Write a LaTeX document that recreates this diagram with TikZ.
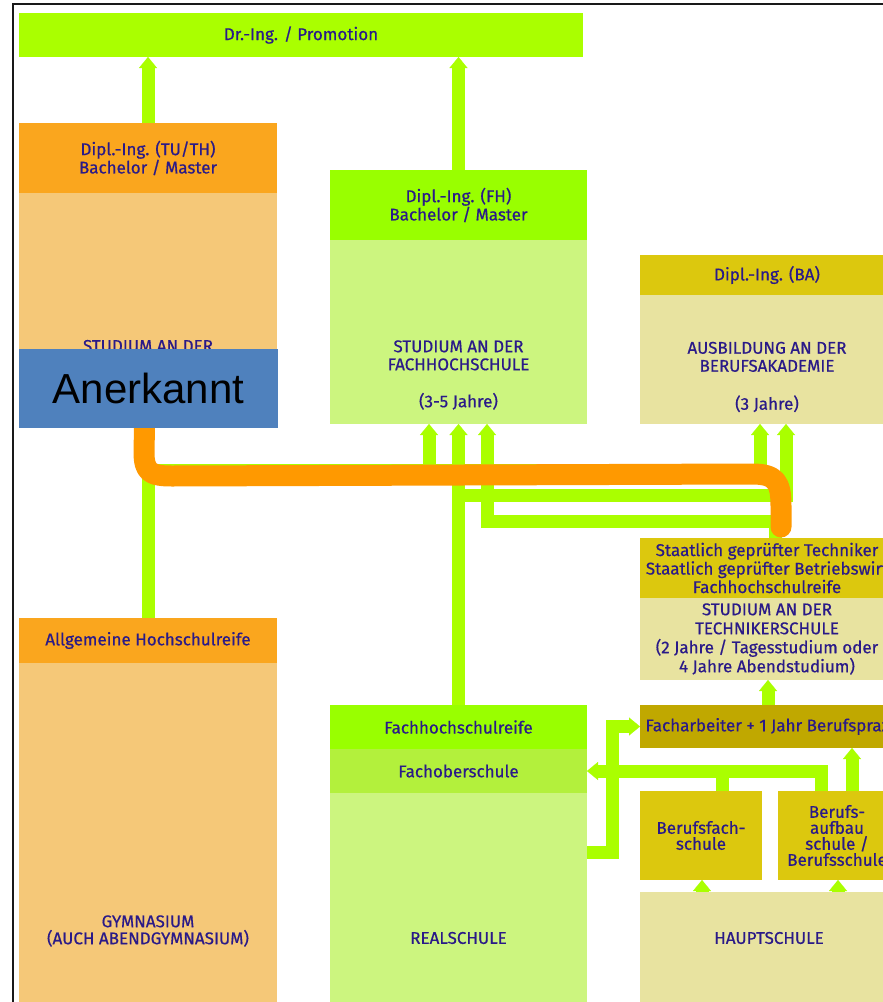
\documentclass[tikz,border=0pt]{standalone}
\usepackage{fontspec}
\setmainfont{Fira Sans}[FakeBold=0.6]
\newfontfamily\arialfont{Liberation Sans}
\usetikzlibrary{arrows.meta}
\pgfdeclarelayer{front}
\pgfsetlayers{main,front}
\definecolor{limeg}{HTML}{AAFF00}
\definecolor{fhgreen}{HTML}{99FF00}
\definecolor{lightg}{HTML}{CCF57F}
\definecolor{fosg}{HTML}{B3F03C}
\definecolor{orhead}{HTML}{FAA61E}
\definecolor{orbody}{HTML}{F5C878}
\definecolor{anblue}{HTML}{4F81BD}
\definecolor{curvecol}{HTML}{FF9900}
\definecolor{bahead}{HTML}{DCC80E}
\definecolor{babody}{HTML}{E8E3A0}
\definecolor{fachcol}{HTML}{C0A800}
\definecolor{tcol}{HTML}{2A1A88}
\begin{document}
\begin{tikzpicture}[x=1pt,y=-1pt,
  box/.style={rectangle, inner sep=0pt, outer sep=0pt, anchor=north west, text=tcol, align=center, font=\fontsize{17}{17}\selectfont},
  lbl/.style={inner sep=0pt, outer sep=0pt, text=tcol, align=center, font=\fontsize{17}{18}\selectfont},
  conn/.style={draw=limeg, line width=13pt},
  arr/.style={conn, -{Triangle[length=11pt,width=18pt,line width=0.1pt]}},
  ocurve/.style={draw=curvecol, line width=21pt, line cap=round, line join=round}]
\useasboundingbox (0,0) rectangle (883,1002);
\clip (0,0) rectangle (883,1002);
\fill[white] (0,0) rectangle (883,1002);
\draw[line width=2pt, black!90] (13,4) rectangle (900,1020);

% boxes
\node[box, fill=limeg, minimum width=564pt, minimum height=44pt] (dr) at (19,13) {Dr.-Ing. / Promotion};
\node[box, fill=orhead, minimum width=258pt, minimum height=70pt, font=\fontsize{17}{16}\selectfont] (tuh) at (19,123) {Dipl.-Ing. (TU/TH)\\Bachelor / Master};
\node[box, fill=orbody, minimum width=258pt, minimum height=235pt] (tub) at (19,193) {};
\node[lbl] (tubt) at (148,346) {STUDIUM AN DER};
\node[box, fill=fhgreen, minimum width=257pt, minimum height=70pt, font=\fontsize{17}{16}\selectfont] (fhh) at (330,170) {Dipl.-Ing. (FH)\\Bachelor / Master};
\node[box, fill=lightg, minimum width=257pt, minimum height=184pt] (fhb) at (330,240) {};
\node[lbl] (fhbt) at (458.5,375) {STUDIUM AN DER\\FACHHOCHSCHULE\\[19pt](3-5 Jahre)};
\node[box, fill=bahead, minimum width=254pt, minimum height=40pt] (bah) at (640,255) {Dipl.-Ing. (BA)};
\node[box, fill=babody, minimum width=254pt, minimum height=129pt] (bab) at (640,295) {};
\node[lbl] (babt) at (767,377) {AUSBILDUNG AN DER\\BERUFSAKADEMIE\\[20pt](3 Jahre)};
\node[box, fill=bahead, minimum width=254pt, minimum height=60pt, font=\fontsize{17}{18.5}\selectfont] (teh) at (640,538) {Staatlich geprüfter Techniker\\Staatlich geprüfter Betriebswirt\\Fachhochschulreife};
\node[box, fill=babody, minimum width=254pt, minimum height=82pt, font=\fontsize{17}{19}\selectfont] (teb) at (640,598) {STUDIUM AN DER\\TECHNIKERSCHULE\\(2 Jahre / Tagesstudium oder\\4 Jahre Abendstudium)};
\node[box, fill=fachcol, minimum width=268pt, minimum height=43pt] (fach) at (640,705) {Facharbeiter + 1 Jahr Berufspraxis};
\node[box, fill=orhead, minimum width=258pt, minimum height=45pt] (ahr) at (19,618) {Allgemeine Hochschulreife};
\node[box, fill=orbody, minimum width=258pt, minimum height=400pt] (gym) at (19,663) {};
\node[lbl, font=\fontsize{17}{17}\selectfont] (gymt) at (148,931) {GYMNASIUM\\(AUCH ABENDGYMNASIUM)};
\node[box, fill=fhgreen, minimum width=257pt, minimum height=44pt] (fhr) at (330,705) {Fachhochschulreife};
\node[box, fill=fosg, minimum width=257pt, minimum height=44pt] (fos) at (330,749) {Fachoberschule};
\node[box, fill=lightg, minimum width=257pt, minimum height=400pt] (real) at (330,793) {};
\node[lbl] (realt) at (458.5,938) {REALSCHULE};
\node[box, fill=bahead, minimum width=122pt, minimum height=89pt, font=\fontsize{17}{16}\selectfont] (bfs) at (640,791) {Berufsfach-\\schule};
\node[box, fill=bahead, minimum width=118pt, minimum height=89pt, font=\fontsize{17}{16}\selectfont] (bas) at (778,791) {Berufs-\\aufbau\\schule /\\Berufsschule};
\node[box, fill=babody, minimum width=258pt, minimum height=200pt] (haupt) at (640,892) {};
\node[lbl] (hauptt) at (769,938) {HAUPTSCHULE};

% junction coordinates
\coordinate (j1) at (760,470);
\coordinate (b1) at (429,470);
\coordinate (j2) at (786,495);
\coordinate (j3) at (775,521);
\coordinate (j3b) at (487,521);
\coordinate (c4) at (768,0);
\coordinate (c5) at (612,852);
\coordinate (c6) at (821,0);
\coordinate (c7) at (722,0);
\coordinate (c8) at (852,0);
\coordinate (c9) at (702,0);
\coordinate (c10) at (838,0);

% green connectors
\draw[arr] (tuh.north) -- (tuh.north |- dr.south);
\draw[arr] (fhh.north) -- (fhh.north |- dr.south);
\draw[arr] (ahr.north) |- (j1) -- (j1 |- bab.south);
\draw[arr] (b1) -- (b1 |- fhb.south);
\draw[arr] (fhr.north) -- (fhb.south);
\draw[arr] (fhr.north |- j2) -- (j2) -- (j2 |- bab.south);
\draw[arr] (j3 |- teh.north) -- (j3) -- (j3b) -- (j3b |- fhb.south);
\draw[arr] (c4 |- fach.north) -- (c4 |- teb.south);
\draw[arr] (c5 -| real.east) -- (c5) |- (fach.west);
\draw[arr] (c6 |- bas.north) |- (fos.east);
\draw[conn] (c7 |- bfs.north) -- (c7 |- fos.east);
\draw[arr] (c8 |- bas.north) -- (c8 |- fach.south);
\draw[arr] (c9 |- haupt.north) -- (c9 |- bfs.south);
\draw[arr] (c10 |- haupt.north) -- (c10 |- bas.south);

% overlay box
\begin{pgfonlayer}{front}
\node[box, fill=anblue, minimum width=259pt, minimum height=79pt, text=black, font=\arialfont\fontsize{42}{48}\selectfont] (anerk) at (19,349) {Anerkannt};
\end{pgfonlayer}

% orange connector
\draw[ocurve] ([xshift=-4pt]anerk.south) -- (144,452) .. controls (144,472) and (150,476) .. (172,476) -- (752,474) .. controls (776,474) and (781,482) .. (781,506) -- (781,527);
\end{tikzpicture}
\end{document}
